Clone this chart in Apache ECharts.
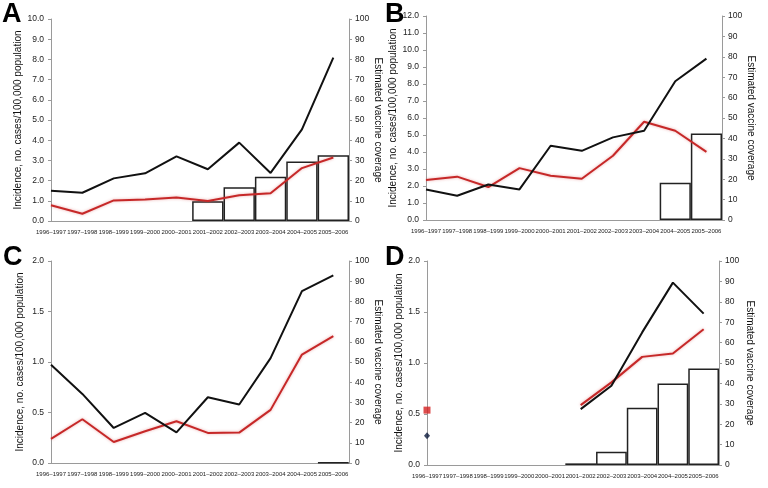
<!DOCTYPE html>
<html><head><meta charset="utf-8">
<script src="https://cdn.jsdelivr.net/npm/echarts@6/dist/echarts.min.js"></script>
<style>html,body{margin:0;padding:0;background:#fff}#c{width:768px;height:488px}</style>
</head><body><div id="c"></div>
<script>
var categories = ['1996–1997','1997–1998','1998–1999','1999–2000','2000–2001','2001–2002','2002–2003','2003–2004','2004–2005','2005–2006'];
var panelLetters = ['A','B','C','D'];
var leftTitle = 'Incidence, no. cases/100,000 population';
var rightTitle = 'Estimated vaccine coverage';

// Panel A
var blackA = [1.50,1.40,2.11,2.36,3.20,2.56,3.88,2.38,4.54,8.09];
var redA   = [0.78,0.36,1.02,1.07,1.16,0.99,1.27,1.37,2.62,3.14];
var coverA = [null,null,null,null,null,9.8,16.7,21.9,29.5,32.5];
// Panel B
var blackB = [1.80,1.43,2.09,1.80,4.37,4.07,4.86,5.25,8.16,9.49];
var redB   = [2.35,2.55,1.94,3.05,2.60,2.43,3.78,5.78,5.25,4.01];
var coverB = [null,null,null,null,null,null,null,null,18.3,42.4];
// Panel C
var blackC = [0.972,0.684,0.347,0.496,0.304,0.651,0.579,1.038,1.702,1.858];
var redC   = [0.238,0.433,0.208,0.314,0.413,0.298,0.301,0.526,1.074,1.256];
var coverC = [null,null,null,null,null,null,null,null,null,0.3];
// Panel D
var blackD = [0.287,null,null,null,null,0.548,0.777,1.30,1.788,1.484];
var redD   = [0.538,null,null,null,null,0.587,0.81,1.06,1.093,1.331];
var coverD = [null,null,null,null,null,0.8,6.5,28.1,40.0,47.3];

var leftMax = [10,12,2,2];
var leftInterval = [1,1,0.5,0.5];

var panels = [
  {black:blackA, red:redA, cover:coverA},
  {black:blackB, red:redB, cover:coverB},
  {black:blackC, red:redC, cover:coverC},
  {black:blackD, red:redD, cover:coverD}
];
var grids = [
  {left:51, top:19, width:298, height:202},
  {left:426, top:16, width:296, height:204},
  {left:51, top:261, width:298, height:202},
  {left:427, top:261, width:292, height:204}
];
var leftGap = [24,28,26,21];
var rightGap = [20,23,24,26];
var letterPos = [[2,1],[385,1],[3,244],[385,244]];

var FONT = 'Liberation Sans, Arial, sans-serif';
var axisGray = '#9a9a9a';
var xAxes=[], yAxes=[], series=[], graphics=[];

panels.forEach(function(p, k){
  var g = grids[k];
  xAxes.push({
    type:'value', gridIndex:k, min:0, max:9.5, interval:1,
    axisLine:{show:true, lineStyle:{color:axisGray, width:1}},
    axisTick:{show:false}, splitLine:{show:false},
    axisLabel:{show:true, fontSize:6, color:'#222', fontFamily:FONT, margin:8,
      showMinLabel:true, showMaxLabel:false, hideOverlap:false,
      formatter:function(v){ return (Math.abs(v-Math.round(v))<1e-6 && categories[Math.round(v)]) ? categories[Math.round(v)] : ''; }}
  });
  yAxes.push({
    type:'value', gridIndex:k, position:'left', min:0, max:leftMax[k], interval:leftInterval[k],
    name:leftTitle, nameLocation:'middle', nameGap:leftGap[k], nameRotate:90,
    nameTextStyle:{fontSize:10, color:'#111', fontFamily:FONT},
    axisLine:{show:true, lineStyle:{color:axisGray, width:1}},
    axisTick:{show:true, length:3, lineStyle:{color:axisGray}},
    splitLine:{show:false},
    axisLabel:{fontSize:8.5, color:'#222', fontFamily:FONT, margin:7,
      formatter:function(v){return v.toFixed(1);}}
  });
  yAxes.push({
    type:'value', gridIndex:k, position:'right', min:0, max:100, interval:10,
    name:rightTitle, nameLocation:'middle', nameGap:rightGap[k], nameRotate:-90,
    nameTextStyle:{fontSize:10, color:'#111', fontFamily:FONT},
    axisLine:{show:true, lineStyle:{color:axisGray, width:1}},
    axisTick:{show:true, length:3, lineStyle:{color:axisGray}},
    splitLine:{show:false},
    axisLabel:{fontSize:8.5, color:'#222', fontFamily:FONT, margin:6}
  });
  var bw = g.width/9.5;
  series.push({
    type:'bar', xAxisIndex:k, yAxisIndex:2*k+1, barWidth:bw, z:1, silent:true,
    itemStyle:{color:'#ffffff', borderColor:'#222', borderWidth:1.5},
    data:p.cover.map(function(v,i){return v==null?null:[i,v];}).filter(function(d){return d;})
  });
  series.push({
    type:'line', xAxisIndex:k, yAxisIndex:2*k, z:3, showSymbol:false, symbol:'none', connectNulls:false,
    lineStyle:{color:'#c62828', width:2, shadowColor:'rgba(210,70,70,0.45)', shadowBlur:3},
    data:p.red.map(function(v,i){return [i,v];})
  });
  series.push({
    type:'line', xAxisIndex:k, yAxisIndex:2*k, z:4, showSymbol:false, symbol:'none', connectNulls:false,
    lineStyle:{color:'#111', width:2},
    data:p.black.map(function(v,i){return [i,v];})
  });
  function isolated(arr){
    var out=[];
    arr.forEach(function(v,i){
      if(v!=null && (i===0||arr[i-1]==null) && (i===arr.length-1||arr[i+1]==null)) out.push([i,v]);
    });
    return out;
  }
  var ir = isolated(p.red), ib = isolated(p.black);
  if(ir.length) series.push({type:'scatter', xAxisIndex:k, yAxisIndex:2*k, z:5, symbol:'rect', symbolSize:7,
    itemStyle:{color:'#d42020'}, data:ir});
  if(ib.length) series.push({type:'scatter', xAxisIndex:k, yAxisIndex:2*k, z:5, symbol:'diamond', symbolSize:[6,7],
    itemStyle:{color:'#0b1a3c'}, data:ib});
  graphics.push({type:'text', left:letterPos[k][0], top:letterPos[k][1],
    style:{text:panelLetters[k], font:'900 27px Liberation Sans, Arial, sans-serif', fill:'#000'}});
});

var chart = echarts.init(document.getElementById('c'), null, {renderer:'canvas'});
chart.setOption({
  animation:false,
  backgroundColor:'#fff',
  grid:grids,
  xAxis:xAxes,
  yAxis:yAxes,
  series:series,
  graphic:graphics
});
</script>
</body></html>
